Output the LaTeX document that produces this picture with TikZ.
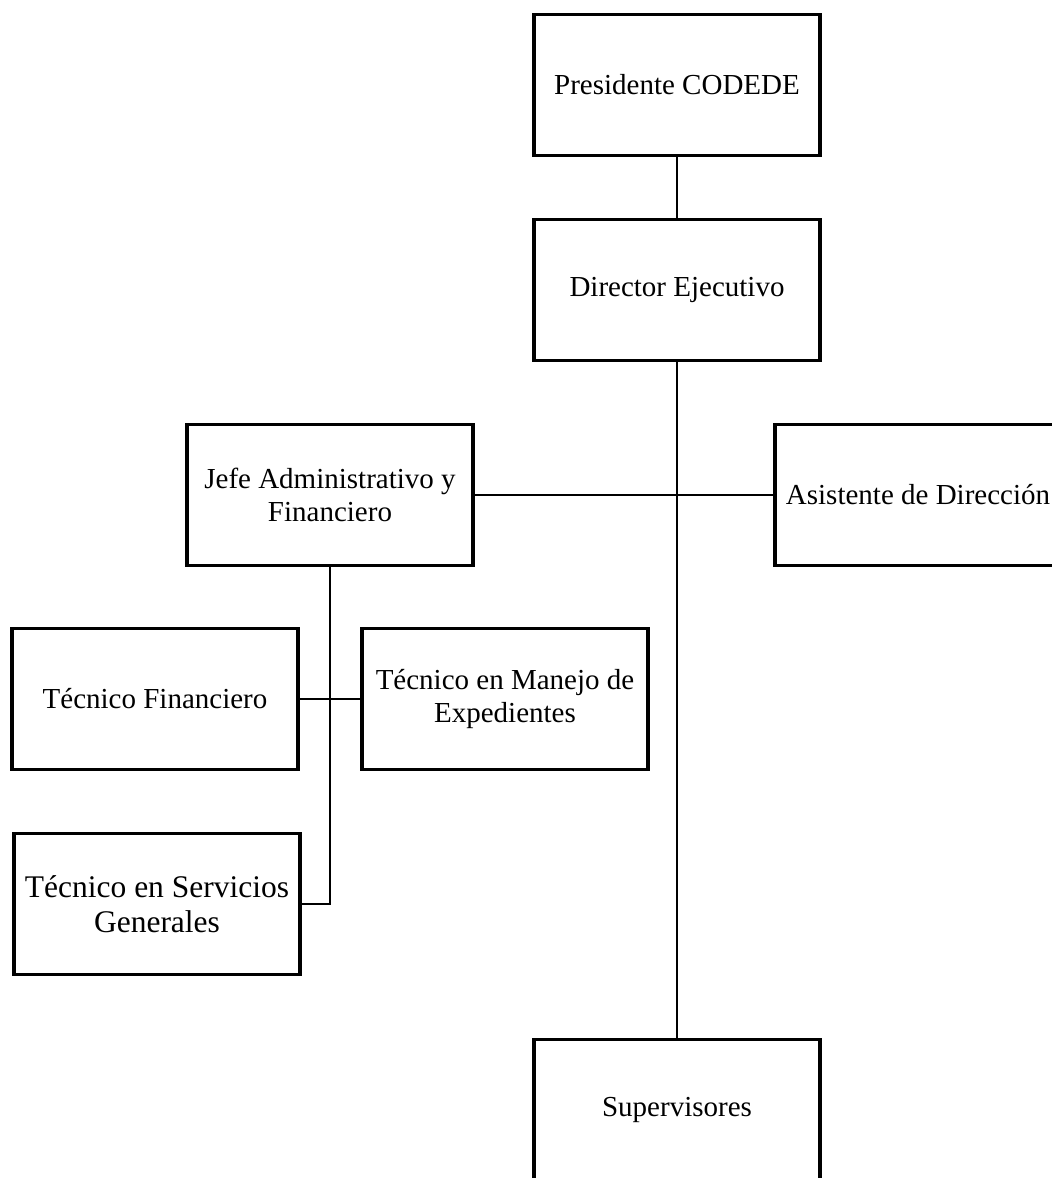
\documentclass[tikz,border=0pt]{standalone}
\usepackage{fontspec}
\setmainfont{Liberation Serif}
\begin{document}
\begin{tikzpicture}[x=1pt,y=-1pt,
  orgbox/.style={draw=black, line width=3.6pt, fill=white, minimum width=286pt, minimum height=141pt,
    align=center, inner sep=2pt, font=\fontsize{29}{33}\selectfont},
  link/.style={draw=black, line width=2.4pt}]
\useasboundingbox (0,0) rectangle (1052,1178);
\node[orgbox] (pres) at (677,85) {Presidente CODEDE};
\node[orgbox] (dir) at (677,290) {Director Ejecutivo};
\node[orgbox] (jefe) at (330,495) {Jefe Administrativo y\\Financiero};
\node[orgbox] (asis) at (918,495) {Asistente de Dirección};
\node[orgbox] (tf) at (155,699) {Técnico Financiero};
\node[orgbox] (tm) at (505,699) {Técnico en Manejo de\\Expedientes};
\node[orgbox, font=\fontsize{31.5}{35}\selectfont] (ts) at (157,904) {Técnico en Servicios\\Generales};
\node[orgbox] (sup) at (677,1110) {Supervisores};
\coordinate (bend) at (jefe.south |- ts.east);
\draw[link] (pres.south) -- (dir.north);
\draw[link] (dir.south) -- (sup.north);
\draw[link] (jefe.east) -- (asis.west);
\draw[link] (jefe.south) -- (bend) -- (ts.east);
\draw[link] (tf.east) -- (tm.west);
\end{tikzpicture}
\end{document}
